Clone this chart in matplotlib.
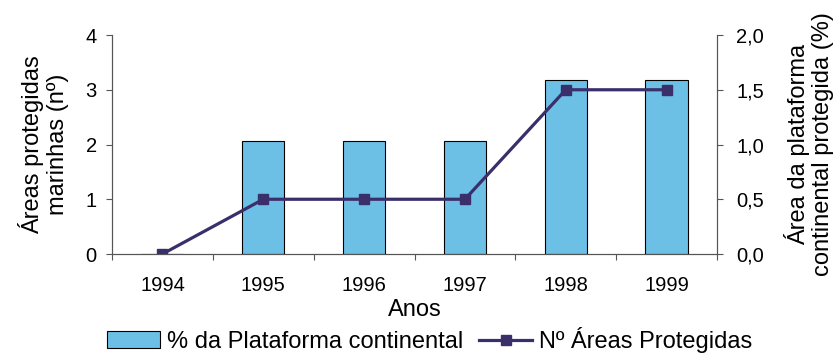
import numpy as np
from matplotlib import pyplot as plt

plt.rcParams['font.family'] = ['Liberation Sans', 'DejaVu Sans']

anos = ["1994", "1995", "1996", "1997", "1998", "1999"]
n_areas = [0, 1, 1, 1, 3, 3]
pct_plataforma = [0.0, 1.03, 1.03, 1.03, 1.59, 1.59]

x = np.arange(len(anos))

fig = plt.figure(figsize=(8.38, 3.58), dpi=100)
ax = fig.add_axes([0.1337, 0.2905, 0.7219, 0.6117])
ax2 = ax.twinx()

bars = ax2.bar(x, pct_plataforma, width=0.42, color='#6CC0E5',
               edgecolor='black', linewidth=0.8,
               label="% da Plataforma continental")
line, = ax.plot(x, n_areas, color='#3B2F6B', lw=2.3, marker='s',
                markersize=7, label="Nº Áreas Protegidas")

ax.set_zorder(ax2.get_zorder() + 1)
ax.patch.set_visible(False)

ax.set_xlim(-0.5, 5.5)
ax.set_ylim(0, 4)
ax2.set_ylim(0, 2)
ax.set_yticks([0, 1, 2, 3, 4])
ax2.set_yticks([0, 0.5, 1.0, 1.5, 2.0])
ax2.set_yticklabels([f"{v:.1f}".replace('.', ',') for v in [0, 0.5, 1.0, 1.5, 2.0]])

# tick marks between the years, labels centred on them
ax.set_xticks(np.arange(-0.5, 6, 1))
ax.set_xticklabels([])
ax.set_xticks(x, minor=True)
ax.set_xticklabels(anos, minor=True)
ax.tick_params(axis='x', which='minor', length=0, labelsize=14.5, pad=16)
ax.tick_params(axis='x', which='major', length=4, color='#555555')
ax.tick_params(axis='y', labelsize=14.5, length=4, color='#555555', pad=7)
ax2.tick_params(axis='y', labelsize=14.5, length=4, color='#555555', pad=10)

for a in (ax, ax2):
    a.spines['top'].set_visible(False)
    for s in ('left', 'right', 'bottom'):
        a.spines[s].set_color('#555555')

ax.set_xlabel("Anos", fontsize=17, labelpad=3)
ax.set_ylabel("Áreas protegidas\nmarinhas (nº)", fontsize=17, labelpad=12,
              linespacing=1.15)
ax2.set_ylabel("Área da plataforma\ncontinental protegida (%)", fontsize=17,
               labelpad=14, linespacing=1.15, rotation=90)

fig.legend([bars, line], [bars.get_label(), line.get_label()],
           loc='lower center', bbox_to_anchor=(0.513, -0.045), ncol=2,
           frameon=False, fontsize=17, handlelength=2.25, handletextpad=0.3,
           columnspacing=0.65)

fig.savefig("out.png", dpi=100)
